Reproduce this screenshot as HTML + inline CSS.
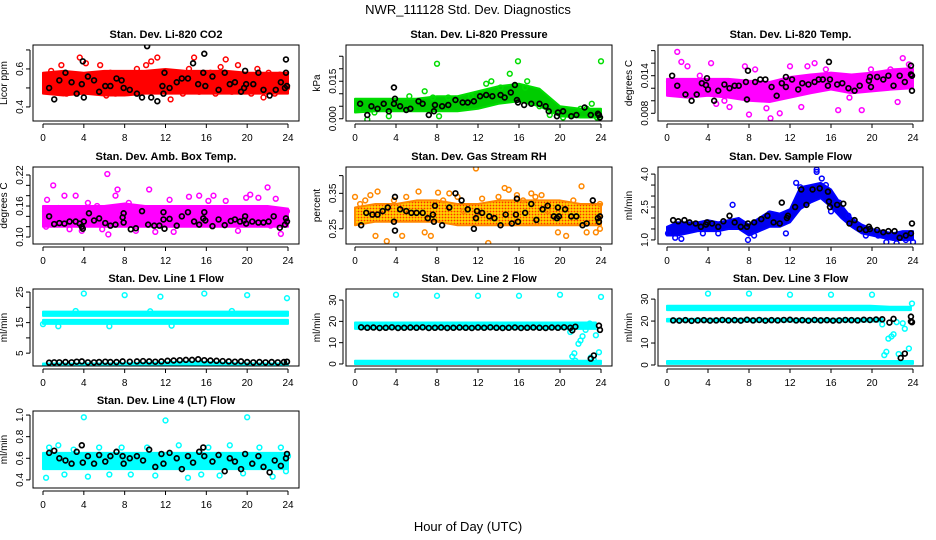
<!DOCTYPE html>
<html><head><meta charset="utf-8"><title>NWR_111128 Std. Dev. Diagnostics</title>
<style>
html,body{margin:0;padding:0;background:#fff;}
svg{display:block;font-family:"Liberation Sans",sans-serif;}
</style></head>
<body>
<svg id="chart" width="936" height="540" viewBox="0 0 936 540">
<defs>
<pattern id="rhpat" width="3" height="3" patternUnits="userSpaceOnUse"><rect width="3" height="3" fill="#ffd200"/><circle cx="1.5" cy="1.5" r="0.9" fill="#ff3000"/></pattern>
</defs>
<text x="468" y="14" text-anchor="middle" font-size="13">NWR_111128 Std. Dev. Diagnostics</text>
<text x="468" y="531" text-anchor="middle" font-size="13">Hour of Day (UTC)</text>
</svg>
<script>
// ---------- data ----------
const xTicks=[0,4,8,12,16,20,24];
// CO2
const co2BandLo=[.47,.46,.47,.46,.46,.47,.47,.47,.47,.47,.47,.47,.47];
const co2BandHi=[.58,.59,.58,.59,.59,.59,.60,.59,.59,.59,.58,.58,.58];
const co2Pts=[[0.3,.53],[0.8,.59],[1.3,.48],[1.8,.62],[2.3,.47],[2.7,.56],[3.1,.50],[3.6,.66],[4.2,.63],[4.6,.55],[5.2,.48],[5.6,.62],[6.2,.46],[6.6,.58],[7.1,.47],[7.6,.56],[8.0,.31],[8.5,.49],[9.2,.60],[9.6,.52],[10.1,.62],[10.6,.64],[11.2,.66],[11.7,.49],[12.3,.53],[12.5,.44],[13.2,.58],[13.7,.47],[14.3,.60],[14.8,.66],[15.3,.48],[15.9,.30],[16.4,.58],[16.9,.47],[17.4,.61],[17.9,.65],[18.5,.48],[19.1,.62],[19.6,.54],[20.4,.47],[21.0,.60],[21.6,.45],[22.1,.58],[22.7,.47],[23.2,.57],[23.6,.52],[24.0,.31],[23.9,.50]];
const co2Blk=[[0.6,.50],[1.1,.44],[1.6,.54],[2.2,.58],[2.8,.53],[3.3,.47],[3.8,.52],[3.9,.64],[4.0,.45],[4.4,.56],[5.0,.54],[5.5,.48],[6.1,.51],[6.6,.51],[7.2,.55],[7.7,.54],[7.9,.50],[8.5,.49],[9.2,.47],[9.7,.45],[10.2,.72],[10.6,.45],[11.2,.43],[11.7,.51],[11.8,.47],[11.9,.58],[12.4,.50],[13.1,.53],[13.6,.55],[14.2,.55],[14.7,.63],[15.2,.52],[15.7,.58],[15.8,.68],[15.9,.51],[16.6,.56],[17.2,.49],[17.8,.58],[18.3,.52],[18.8,.53],[19.4,.48],[19.7,.50],[19.8,.59],[19.9,.52],[20.6,.52],[21.1,.58],[21.6,.49],[22.2,.46],[22.8,.49],[23.3,.53],[23.7,.50],[23.8,.58],[23.8,.65],[23.9,.51]];
const co2YTicks=[0.4,0.5,0.6,0.7];
const co2YLabels=["0.4","","0.6",""];
// Pressure
const presBandLo=[.0025,.003,.003,.003,.003,.003,.004,.006,.007,.005,.001,.0005,.0005];
const presBandHi=[.008,.008,.008,.008,.009,.009,.011,.013,.014,.012,.005,.004,.004];
const presPts=[[0.3,.004],[1.2,-.0003],[1.9,.0025],[3.3,.001],[5.3,.009],[6.8,.011],[7.6,.0085],[8.0,.022],[8.2,.001],[9.1,.0085],[11.3,.009],[12.8,.014],[13.3,.015],[14.2,.0125],[15.1,.018],[15.9,.023],[16.8,.015],[16.6,.0125],[18.0,.005],[19.0,.0015],[20.3,.0005],[22.0,.004],[22.6,.004],[23.1,.006],[24.0,.023],[23.6,.0005]];
const presBlk=[[0.5,.006],[1.2,.0015],[1.6,.005],[2.2,.004],[2.8,.006],[3.3,.003],[3.8,.0125],[3.9,.008],[3.8,.006],[4.4,.005],[5.0,.0035],[5.4,.004],[6.2,.007],[6.6,.006],[7.2,.0015],[7.7,.003],[7.8,.0055],[8.5,.005],[9.1,.0055],[9.8,.0075],[10.5,.0065],[11.0,.0065],[11.6,.007],[12.2,.009],[12.8,.0095],[13.4,.009],[14.2,.0095],[14.6,.0085],[15.2,.0105],[15.6,.0135],[15.8,.0075],[15.9,.0065],[16.5,.0055],[17.2,.006],[18.0,.006],[18.6,.005],[18.9,.003],[19.7,.001],[19.8,.0025],[20.3,.003],[21.1,.001],[21.6,.0015],[22.4,.0045],[23.0,.0015],[23.8,.0015],[23.9,.0005],[23.7,.002]];
const presYTicks=[0,.005,.010,.015,.020,.025];
const presYLabels=["0.000","","","0.015","",""];
// Li-820 temp
const tempBandLo=[.0108,.0105,.0108,.0105,.0100,.0098,.0105,.0112,.0118,.0112,.0115,.0118,.0120];
const tempBandHi=[.0135,.0135,.0135,.0135,.0132,.0130,.0138,.0142,.0145,.0142,.0145,.0150,.0152];
const tempPts=[[0.2,.0130],[1.0,.0178],[1.4,.0162],[2.0,.0155],[2.6,.0118],[3.2,.0140],[4.3,.0160],[4.8,.0095],[5.6,.0100],[6.1,.0090],[7.0,.0118],[7.6,.0155],[8.0,.0078],[8.6,.0150],[9.7,.0088],[10.1,.0072],[11.0,.0080],[12.0,.0155],[13.1,.0090],[13.7,.0155],[14.4,.0160],[15.5,.0150],[16.7,.0085],[17.8,.0105],[19.0,.0085],[19.9,.0150],[21.0,.0125],[22.5,.0098],[23.0,.0168],[23.6,.0158],[23.9,.0140],[21.8,.0150]];
const tempBlk=[[0.5,.0140],[1.0,.0124],[1.8,.0110],[2.4,.0100],[2.9,.0110],[3.4,.0128],[3.8,.0125],[3.9,.0136],[4.0,.0118],[4.6,.0100],[5.0,.0116],[5.6,.0126],[6.1,.0120],[6.6,.0124],[7.0,.0124],[7.7,.0130],[7.8,.0102],[7.9,.0148],[8.6,.0130],[9.1,.0134],[9.6,.0134],[10.2,.0122],[10.7,.0108],[11.2,.0128],[11.6,.0122],[11.6,.0138],[12.2,.0134],[12.8,.0118],[13.2,.0128],[13.8,.0126],[14.4,.0130],[14.8,.0134],[15.2,.0134],[15.7,.0124],[15.8,.0162],[15.9,.0134],[16.6,.0126],[17.1,.0128],[17.7,.0120],[18.3,.0116],[18.8,.0124],[19.8,.0138],[19.9,.0122],[19.7,.0132],[20.5,.0138],[21.1,.0134],[21.6,.0140],[22.1,.0124],[22.7,.0140],[23.2,.0130],[23.8,.0142],[23.8,.0156],[23.9,.0116],[23.9,.0140]];
const tempYTicks=[.008,.010,.012,.014,.016,.018];
const tempYLabels=["0.008","","","0.014","",""];
// Amb box temp
const ambBandLo=[.12,.12,.12,.12,.12,.12,.12,.12,.12,.12,.12,.12,.12];
const ambBandHi=[.16,.16,.16,.16,.165,.16,.16,.16,.16,.16,.16,.16,.155];
const ambPts=[[0.2,.150],[0.3,.120],[0.4,.172],[1.0,.200],[1.5,.156],[2.1,.180],[2.6,.115],[3.2,.180],[3.8,.112],[4.4,.166],[5.3,.160],[5.8,.115],[6.3,.222],[6.4,.105],[7.1,.180],[7.3,.192],[8.4,.166],[9.1,.112],[10.4,.192],[11.0,.110],[12.4,.172],[12.8,.110],[14.3,.178],[15.3,.180],[16.2,.170],[16.7,.180],[17.9,.170],[19.1,.112],[19.9,.176],[20.3,.182],[21.1,.176],[22.0,.196],[22.3,.122],[22.8,.174],[23.3,.106],[23.9,.150]];
const ambBlk=[[0.6,.140],[1.1,.125],[1.6,.127],[2.1,.126],[2.6,.130],[3.2,.130],[3.6,.126],[3.8,.120],[3.9,.116],[4.0,.130],[4.5,.146],[5.0,.132],[5.5,.136],[6.1,.127],[6.6,.122],[7.1,.124],[7.8,.138],[7.9,.128],[7.9,.146],[8.6,.115],[9.1,.117],[9.7,.150],[10.3,.124],[10.9,.122],[11.4,.122],[11.8,.148],[11.8,.134],[11.9,.116],[12.4,.135],[13.1,.122],[13.6,.140],[14.2,.148],[14.8,.130],[15.3,.124],[15.7,.136],[15.8,.148],[15.9,.132],[16.6,.121],[17.2,.134],[17.8,.123],[18.4,.131],[18.8,.134],[19.3,.130],[19.7,.132],[19.8,.140],[19.9,.126],[20.5,.130],[21.1,.128],[21.6,.128],[22.1,.130],[22.6,.140],[23.2,.118],[23.7,.124],[23.8,.136],[23.9,.130]];
const ambYTicks=[.10,.12,.14,.16,.18,.20,.22];
const ambYLabels=["0.10","","","0.16","","","0.22"];
// Gas stream RH
const rhBandLo=[.26,.27,.27,.27,.27,.26,.26,.26,.26,.26,.26,.26,.26];
const rhBandHi=[.31,.32,.32,.33,.33,.32,.32,.33,.33,.33,.33,.32,.32];
const rhPts=[[0.0,.340],[0.5,.320],[1.0,.330],[1.5,.345],[2.0,.230],[2.2,.355],[3.1,.215],[3.8,.330],[4.6,.230],[5.0,.340],[6.2,.355],[6.8,.240],[7.4,.230],[8.1,.352],[8.6,.330],[9.2,.350],[10.0,.340],[10.6,.300],[11.8,.420],[12.4,.335],[13.0,.210],[14.0,.340],[14.6,.365],[15.0,.360],[15.8,.345],[16.4,.330],[17.2,.350],[17.6,.340],[18.2,.345],[18.8,.300],[19.8,.240],[20.6,.230],[21.3,.330],[22.1,.370],[22.6,.240],[23.5,.240],[23.9,.320],[23.9,.250]];
const rhBlk=[[0.6,.260],[1.1,.295],[1.7,.290],[2.2,.290],[2.7,.300],[3.2,.310],[3.8,.270],[3.9,.340],[3.9,.245],[4.4,.305],[5.0,.300],[5.5,.295],[6.0,.295],[6.6,.295],[7.1,.280],[7.6,.290],[7.7,.270],[7.8,.315],[8.5,.260],[9.2,.310],[9.8,.350],[10.4,.330],[11.0,.305],[11.6,.250],[11.8,.280],[11.9,.300],[12.4,.295],[13.1,.285],[13.6,.280],[14.2,.260],[14.7,.290],[15.3,.265],[15.7,.290],[15.8,.335],[15.9,.270],[16.6,.295],[17.2,.320],[17.7,.275],[18.3,.305],[18.8,.315],[19.4,.285],[19.7,.280],[19.8,.310],[19.9,.285],[20.5,.305],[21.1,.285],[21.6,.285],[22.2,.260],[22.6,.265],[23.2,.330],[23.7,.280],[23.8,.270],[23.9,.285]];
const rhYTicks=[.25,.30,.35,.40];
const rhYLabels=["0.25","","0.35",""];
// Sample flow
const flowBandLo=[1.2,1.2,1.3,1.4,1.4,1.4,1.5,1.5,1.2,1.4,1.6,1.6,1.8,2.4,2.7,2.9,2.5,2.0,1.6,1.3,1.2,1.1,1.0,1.0,1.0];
const flowBandHi=[1.6,1.8,1.8,1.8,1.9,1.8,1.9,2.0,1.7,2.0,2.3,2.2,2.4,3.4,3.5,3.6,3.3,2.6,2.0,1.7,1.5,1.4,1.3,1.4,1.4];
const flowPts=[[0.1,1.3],[0.8,1.1],[1.4,1.05],[2.4,1.6],[3.5,1.3],[5.0,1.3],[6.4,2.6],[7.9,1.0],[8.5,1.2],[10.0,2.2],[11.6,1.3],[12.6,3.6],[13.0,3.4],[14.6,4.2],[14.6,4.1],[15.1,3.8],[15.5,3.5],[16.0,2.3],[16.8,2.7],[17.7,2.1],[19.4,1.2],[20.6,1.2],[21.4,0.9],[22.4,0.85],[23.3,1.0],[24.0,0.9]];
const flowBlk=[[0.6,1.9],[1.1,1.85],[1.7,1.9],[2.2,1.8],[2.8,1.75],[3.3,1.6],[3.8,1.7],[3.9,1.8],[4.4,1.75],[5.0,1.6],[5.5,1.85],[6.1,2.1],[6.6,1.8],[7.2,1.6],[7.8,1.6],[7.9,1.75],[8.5,1.8],[9.2,1.95],[9.8,2.1],[10.4,1.8],[11.0,1.75],[11.2,2.7],[11.7,2.0],[11.8,2.1],[12.5,2.5],[13.1,3.3],[13.6,2.6],[14.2,3.3],[14.9,3.35],[15.7,3.2],[15.8,2.75],[15.9,2.5],[16.6,2.6],[17.2,2.65],[17.8,1.75],[18.3,1.9],[18.8,1.5],[19.4,1.45],[19.7,1.6],[19.8,1.5],[20.5,1.45],[21.1,1.35],[21.6,1.4],[22.2,1.4],[22.7,1.1],[23.3,1.2],[23.8,1.3],[23.9,1.75]];
const flowYTicks=[1.0,1.5,2.0,2.5,3.0,3.5,4.0];
const flowYLabels=["1.0","","","2.5","","","4.0"];
// Line 1 flow
const l1BandALo=[17.2,17.2,17.2,17.2,17.2,17.2,17.2,17.2,17.2,17.2,17.2,17.2,17.2];
const l1BandAHi=[18.6,18.6,18.6,18.6,18.6,18.6,18.6,18.6,18.6,18.6,18.6,18.6,18.6];
const l1BandBLo=[14.6,14.6,14.6,14.6,14.6,14.6,14.6,14.6,14.6,14.6,14.6,14.6,14.6];
const l1BandBHi=[15.9,15.9,15.9,15.9,15.9,15.9,15.9,15.9,15.9,15.9,15.9,15.9,15.9];
const l1BandCLo=[0.9,0.9,0.9,0.9,0.9,0.9,0.9,0.9,0.9,0.9,0.9,0.9,0.9];
const l1BandCHi=[1.6,1.6,1.6,1.6,1.7,1.8,2.0,2.2,2.1,1.8,1.6,1.6,1.6];
const l1Pts=[[0,14.5],[1.5,13.8],[4.0,24.5],[6.5,13.8],[8.0,24],[11.5,23.5],[12.6,14.0],[15.8,24.5],[20.0,24],[23.9,23],[3.2,18.8],[10.5,18.7],[18.5,18.8]];
const l1Blk=[[0.6,1.9],[1.1,2.0],[1.6,2.0],[2.2,2.1],[2.8,2.0],[3.3,2.2],[3.8,2.3],[4.4,2.0],[5.0,2.0],[5.5,2.1],[6.1,2.2],[6.6,2.1],[7.2,2.1],[7.8,2.3],[8.5,2.2],[9.2,2.3],[9.8,2.4],[10.4,2.3],[11.0,2.2],[11.6,2.3],[12.2,2.5],[12.8,2.6],[13.4,2.7],[14.0,2.8],[14.6,2.8],[15.2,3.0],[15.8,2.7],[16.4,2.6],[17.0,2.5],[17.6,2.4],[18.2,2.3],[18.8,2.2],[19.4,2.3],[20.0,2.1],[20.6,2.0],[21.2,2.1],[21.8,2.0],[22.4,2.1],[23.0,2.0],[23.6,2.1],[23.9,2.2]];
const l1YTicks=[5,10,15,20,25];
const l1YLabels=["5","","15","","25"];
// Line 2 flow
const l2BandALo=[16.5,16.5,16.5,16.5,16.5,16.5,16.5,16.5,16.5,16.5,16.5,16.5,16.5];
const l2BandAHi=[19.5,19.5,19.5,19.5,19.5,19.5,19.5,19.5,19.5,19.5,19.5,19.5,19.5];
const l2BandBLo=[0,0,0,0,0,0,0,0,0,0,0,0,0];
const l2BandBHi=[1.5,1.5,1.5,1.5,1.5,1.5,1.5,1.5,1.5,1.5,1.5,1.5,1.5];
const l2Pts=[[4,32.5],[8,32],[12,32],[16,32],[20,32.5],[24,31.5],[21.2,3.5],[21.4,5],[21.5,1.5],[21.8,9.5],[22.0,11],[22.2,13],[22.5,16],[23.0,3],[23.3,2],[23.5,13.5],[23.8,5.5],[21.0,15],[22.9,19]];
const l2Blk=[[0.6,17.2],[1.2,17.0],[1.8,17.1],[2.4,16.9],[3.0,17.0],[3.6,17.2],[4.2,16.9],[4.8,17.0],[5.4,17.1],[6.0,17.0],[6.6,17.2],[7.2,16.9],[7.8,17.0],[8.4,17.1],[9.0,16.9],[9.6,17.0],[10.2,17.1],[10.8,17.0],[11.4,16.9],[12.0,17.1],[12.6,17.0],[13.2,17.2],[13.8,17.0],[14.4,16.9],[15.0,17.0],[15.6,17.1],[16.2,16.9],[16.8,17.0],[17.4,17.1],[18.0,17.0],[18.6,16.9],[19.2,17.1],[19.8,17.0],[20.4,17.2],[21.0,17.0],[21.5,17.5],[21.2,15.8],[23.0,2.5],[23.3,4],[23.8,18],[23.9,16]];
const l2YTicks=[0,10,20,30];
const l2YLabels=["0","10","20","30"];
// Line 3 flow
const l3BandALo=[25,25,25,25,25,25,25,25,25,25,25,25,25];
const l3BandAHi=[27,27,27,27,27,27,27,27,27,27,27,26.5,26.5];
const l3BandBLo=[19.8,19.8,19.8,19.8,19.8,19.8,19.8,19.8,19.8,19.8,19.8,19.8];
const l3BandBHi=[21,21,21,21,21,21,21,21,21,21,21,21];
const l3BandCLo=[0.5,0.5,0.5,0.5,0.5,0.5,0.5,0.5,0.5,0.5,0.5,0.5,0.5];
const l3BandCHi=[1.8,1.8,1.8,1.8,1.8,1.8,1.8,1.8,1.8,1.8,1.8,1.8,1.8];
const l3Pts=[[4,32.5],[8,32.5],[12,32],[16,32],[20,32],[21.0,18.5],[21.2,4.5],[21.4,6],[21.6,12],[21.9,13],[22.1,14],[22.4,19.5],[22.6,5],[23.2,16.5],[23.6,7.5],[23.9,28],[23.0,19]];
const l3Blk=[[0.6,20.3],[1.2,20.2],[1.8,20.4],[2.4,20.1],[3.0,20.3],[3.6,20.4],[4.2,20.2],[4.8,20.3],[5.4,20.5],[6.0,20.3],[6.6,20.4],[7.2,20.2],[7.8,20.6],[8.4,20.3],[9.0,20.5],[9.6,20.2],[10.2,20.4],[10.8,20.3],[11.4,20.5],[12.0,20.6],[12.6,20.3],[13.2,20.4],[13.8,20.2],[14.4,20.5],[15.0,20.3],[15.6,20.4],[16.2,20.2],[16.8,20.3],[17.4,20.5],[18.0,20.4],[18.6,20.3],[19.2,20.6],[19.8,20.5],[20.4,20.7],[21.0,20.8],[21.7,19.3],[22.1,21],[22.8,3.2],[23.2,5.2],[23.8,22],[23.9,19.5],[23.8,19.8]];
const l3YTicks=[0,10,20,30];
const l3YLabels=["0","10","20","30"];
// Line 4 flow
const l4BandLo=[.50,.50,.50,.50,.50,.50,.50,.50,.50,.50,.50,.50,.50];
const l4BandHi=[.65,.65,.65,.65,.65,.65,.65,.65,.65,.65,.65,.65,.65];
const l4Pts=[[0.3,.42],[0.6,.7],[1.5,.72],[2.1,.45],[3.0,.68],[4.0,.98],[4.4,.43],[5.5,.7],[6.5,.45],[7.7,.70],[8.6,.45],[10.2,.70],[11.0,.44],[12.0,.95],[13.3,.72],[14.2,.42],[15.5,.45],[16.2,.70],[17.3,.44],[18.3,.72],[19.6,.46],[20.0,.98],[21.2,.70],[22.5,.43],[23.3,.70],[23.8,.48],[24.0,.62]];
const l4Blk=[[0.6,.65],[1.1,.67],[1.6,.60],[2.2,.58],[2.8,.55],[3.3,.66],[3.8,.72],[3.9,.56],[4.4,.62],[5.0,.55],[5.5,.63],[6.1,.57],[6.6,.62],[7.2,.66],[7.8,.62],[7.9,.55],[8.5,.60],[9.2,.62],[9.8,.58],[10.4,.68],[11.0,.52],[11.6,.64],[11.8,.55],[12.4,.65],[13.1,.60],[13.6,.50],[14.2,.62],[14.7,.56],[15.3,.66],[15.7,.70],[15.8,.62],[16.6,.57],[17.2,.63],[17.8,.48],[18.3,.60],[18.8,.57],[19.4,.50],[19.8,.64],[20.5,.55],[21.1,.62],[21.6,.52],[22.2,.47],[22.7,.58],[23.3,.53],[23.8,.60],[23.9,.64]];
const l4YTicks=[0.4,0.6,0.8,1.0];
const l4YLabels=["0.4","0.6","0.8","1.0"];

// ---------- layout ----------
const cols=[{bl:33,br:299,x0:43,x24:288},{bl:346,br:612,x0:355,x24:601},{bl:658,br:923,x0:667,x24:913}];
const rows=[{t:45,b:121},{t:167,b:244},{t:289,b:366},{t:411,b:488}];
const panels=[
 {id:'co2',title:'Stan. Dev. Li-820 CO2',ylab:'Licor ppm',c:0,r:0,dom:[0.326,0.726],col:'#ff0000',fill:'#ff0000',bands:[[co2BandLo,co2BandHi]],pts:co2Pts,blk:co2Blk,yt:co2YTicks,yl:co2YLabels},
 {id:'pressure',title:'Stan. Dev. Li-820 Pressure',ylab:'kPa',c:1,r:0,dom:[-0.0009,0.0295],col:'#00dd00',fill:'#00cc00',bands:[[presBandLo,presBandHi]],pts:presPts,blk:presBlk,yt:presYTicks,yl:presYLabels},
 {id:'temp',title:'Stan. Dev. Li-820 Temp.',ylab:'degrees C',c:2,r:0,dom:[0.00677,0.0189],col:'#ff00ff',fill:'#ff00ff',bands:[[tempBandLo,tempBandHi]],pts:tempPts,blk:tempBlk,yt:tempYTicks,yl:tempYLabels},
 {id:'amb-box',title:'Stan. Dev. Amb. Box Temp.',ylab:'degrees C',c:0,r:1,dom:[0.0865,0.2355],col:'#ff00ff',fill:'#ff00ff',bands:[[ambBandLo,ambBandHi]],pts:ambPts,blk:ambBlk,yt:ambYTicks,yl:ambYLabels},
 {id:'rh',title:'Stan. Dev. Gas Stream RH',ylab:'percent',c:1,r:1,dom:[0.2071,0.4243],col:'#ff8800',fill:'url(#rhpat)',bands:[[rhBandLo,rhBandHi]],pts:rhPts,blk:rhBlk,yt:rhYTicks,yl:rhYLabels},
 {id:'sample-flow',title:'Stan. Dev. Sample Flow',ylab:'ml/min',c:2,r:1,dom:[0.815,4.323],col:'#0000ff',fill:'#0000ee',bands:[[flowBandLo,flowBandHi]],pts:flowPts,blk:flowBlk,yt:flowYTicks,yl:flowYLabels},
 {id:'line1',title:'Stan. Dev. Line 1 Flow',ylab:'ml/min',c:0,r:2,dom:[0.8,26],col:'#00ffff',fill:'#00ffff',bands:[[l1BandALo,l1BandAHi],[l1BandBLo,l1BandBHi],[l1BandCLo,l1BandCHi]],pts:l1Pts,blk:l1Blk,yt:l1YTicks,yl:l1YLabels},
 {id:'line2',title:'Stan. Dev. Line 2 Flow',ylab:'ml/min',c:1,r:2,dom:[-0.95,35.2],col:'#00ffff',fill:'#00ffff',bands:[[l2BandALo,l2BandAHi,23.5],[l2BandBLo,l2BandBHi]],pts:l2Pts,blk:l2Blk,yt:l2YTicks,yl:l2YLabels},
 {id:'line3',title:'Stan. Dev. Line 3 Flow',ylab:'ml/min',c:2,r:2,dom:[-0.46,34.6],col:'#00ffff',fill:'#00ffff',bands:[[l3BandALo,l3BandAHi,23.8],[l3BandBLo,l3BandBHi,21],[l3BandCLo,l3BandCHi]],pts:l3Pts,blk:l3Blk,yt:l3YTicks,yl:l3YLabels},
 {id:'line4',title:'Stan. Dev. Line 4 (LT) Flow',ylab:'ml/min',c:0,r:3,dom:[0.325,1.0375],col:'#00ffff',fill:'#00ffff',bands:[[l4BandLo,l4BandHi]],pts:l4Pts,blk:l4Blk,yt:l4YTicks,yl:l4YLabels}
];
const NS='http://www.w3.org/2000/svg';
const svg=document.getElementById('chart');
function mk(tag,attrs,parent){const e=document.createElementNS(NS,tag);for(const k in attrs)e.setAttribute(k,attrs[k]);parent.appendChild(e);return e;}
panels.forEach(p=>{
 const C=cols[p.c],R=rows[p.r];
 const xs=h=>C.x0+(C.x24-C.x0)*h/24;
 const ys=v=>R.b-(v-p.dom[0])/(p.dom[1]-p.dom[0])*(R.b-R.t);
 const g=mk('g',{},svg);
 
 
 const clipId='clip-'+p.id;
 const cp=mk('clipPath',{id:clipId},g);
 mk('rect',{x:C.bl,y:R.t,width:C.br-C.bl,height:R.b-R.t},cp);
 const t=mk('text',{x:(C.bl+C.br)/2,y:R.t-7,'text-anchor':'middle','font-size':'11','font-weight':'bold'},g);
 t.textContent=p.title;
 
 
 const yl=mk('text',{x:0,y:0,'text-anchor':'middle','font-size':'10',transform:`translate(${C.bl-26},${(R.t+R.b)/2}) rotate(-90)`},g);
 yl.textContent=p.ylab;
 
 
 const plot=mk('g',{'clip-path':`url(#${clipId})`},g);
 
 
 p.bands.forEach(b=>{
  const lo=b[0],hi=b[1],end=b[2]!==undefined?b[2]:24,n=lo.length;
  let pts=[];
  for(let i=0;i<n;i++)pts.push([xs(end*i/(n-1)),ys(hi[i])]);
  for(let i=n-1;i>=0;i--)pts.push([xs(end*i/(n-1)),ys(lo[i])]);
  const poly=mk('polygon',{points:pts.map(q=>q.join(',')).join(' '),fill:p.fill,stroke:p.col,'stroke-width':'2','stroke-linejoin':'round'},plot);
  
  
 });
 p.pts.forEach(q=>{
  const c=mk('circle',{cx:xs(q[0]),cy:ys(q[1]),r:2.4,fill:'none',stroke:p.col,'stroke-width':'1.5'},plot);
  
  
 });
 p.blk.forEach(q=>{
  const c=mk('circle',{cx:xs(q[0]),cy:ys(q[1]),r:2.4,fill:'none',stroke:'#000','stroke-width':'1.7'},plot);
  
  
 });
 const box=mk('rect',{x:C.bl,y:R.t,width:C.br-C.bl,height:R.b-R.t,fill:'none',stroke:'#000','stroke-width':'1'},g);
 
 
 const xa=mk('g',{},g);
 
 
 mk('line',{x1:xs(0),x2:xs(24),y1:R.b+3,y2:R.b+3,stroke:'#000'},xa);
 xTicks.forEach(h=>{
  mk('line',{x1:xs(h),x2:xs(h),y1:R.b+3,y2:R.b+7,stroke:'#000'},xa);
  const tl=mk('text',{x:xs(h),y:R.b+20,'text-anchor':'middle','font-size':'10'},xa);
  tl.textContent=String(h);
 });
 const ya=mk('g',{},g);
 
 
 const yv=p.yt.map(ys).filter(y=>y>=R.t-1&&y<=R.b+1);
 if(yv.length)mk('line',{x1:C.bl-3,x2:C.bl-3,y1:Math.min(...yv),y2:Math.max(...yv),stroke:'#000'},ya);
 p.yt.forEach((v,i)=>{
  const y=ys(v); if(y<R.t-1||y>R.b+1)return;
  mk('line',{x1:C.bl-7,x2:C.bl-3,y1:y,y2:y,stroke:'#000'},ya);
  if(p.yl[i]){const tl=mk('text',{x:0,y:0,'text-anchor':'middle','font-size':'10',transform:`translate(${C.bl-10},${y}) rotate(-90)`},ya);tl.textContent=p.yl[i];}
 });
});
</script>
</body></html>
